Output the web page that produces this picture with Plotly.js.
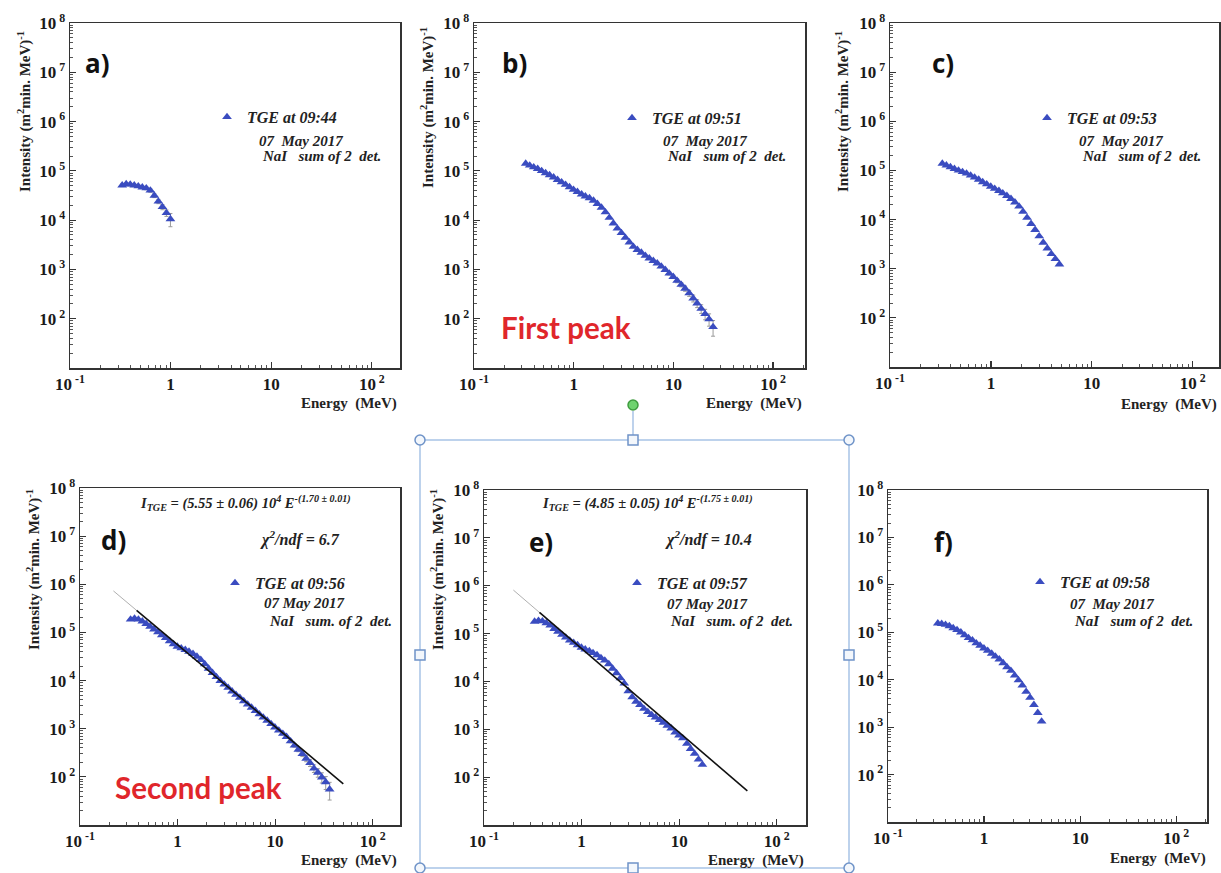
<!DOCTYPE html>
<html>
<head>
<meta charset="utf-8">
<script src="https://cdn.plot.ly/plotly-3.0.1.min.js"></script>
<style>
  html, body { margin: 0; padding: 0; background: #ffffff; }
  #chart { width: 1221px; height: 873px; }
</style>
</head>
<body>
<div id="chart"></div>
<script>
// Energy bin centres (MeV) shared by all six spectra
const ENERGY = [0.330, 0.362, 0.397, 0.435, 0.477, 0.523, 0.573, 0.629, 0.689, 0.756,
                0.829, 0.909, 0.996, 1.09, 1.20, 1.31, 1.44, 1.58, 1.73, 1.90,
                2.08, 2.28, 2.50, 2.74, 3.01, 3.30, 3.62, 3.97, 4.35, 4.77,
                5.23, 5.73, 6.29, 6.89, 7.56, 8.29, 9.09, 9.96, 10.9, 12.0,
                13.1, 14.4, 15.8, 17.3, 19.0, 20.8, 22.8, 25.0, 27.4, 30.1,
                33.0, 36.2];

// Differential intensity, (m^2 min MeV)^-1, one array per minute
const INTENSITY_0944 = [5.1e4, 5.4e4, 5.3e4, 5.1e4, 4.9e4, 4.65e4, 4.45e4, 4.0e4, 3.15e4, 2.4e4,
                        1.85e4, 1.4e4, 1.05e4];
const INTENSITY_0951 = [1.41e5, 1.29e5, 1.19e5, 1.10e5, 9.95e4, 9.0e4, 8.2e4, 7.4e4, 6.6e4, 5.9e4,
                        5.25e4, 4.7e4, 4.15e4, 3.75e4, 3.35e4, 3.05e4, 2.8e4, 2.5e4, 2.15e4, 1.8e4,
                        1.45e4, 1.12e4, 8.6e3, 6.8e3, 5.5e3, 4.4e3, 3.55e3, 2.9e3, 2.5e3, 2.2e3,
                        1.9e3, 1.68e3, 1.5e3, 1.33e3, 1.15e3, 980, 830, 710, 590, 490,
                        410, 330, 260, 205, 160, 125, 98, 68];
const INTENSITY_0953 = [1.38e5, 1.27e5, 1.17e5, 1.08e5, 1.0e5, 9.3e4, 8.7e4, 7.9e4, 7.2e4, 6.5e4,
                        5.8e4, 5.25e4, 4.7e4, 4.25e4, 3.85e4, 3.45e4, 3.05e4, 2.65e4, 2.25e4, 1.85e4,
                        1.45e4, 1.09e4, 8.2e3, 6.2e3, 4.6e3, 3.4e3, 2.6e3, 2.0e3, 1.58e3, 1.23e3];
const INTENSITY_0956 = [1.86e5, 1.95e5, 1.86e5, 1.70e5, 1.51e5, 1.32e5, 1.16e5, 1.01e5, 8.8e4, 7.7e4,
                        6.6e4, 5.75e4, 5.1e4, 4.7e4, 4.35e4, 4.0e4, 3.6e4, 3.15e4, 2.7e4, 2.2e4,
                        1.78e4, 1.45e4, 1.19e4, 9.8e3, 8.3e3, 7.1e3, 6.0e3, 5.1e3, 4.4e3, 3.75e3,
                        3.2e3, 2.75e3, 2.35e3, 2.0e3, 1.72e3, 1.48e3, 1.26e3, 1.07e3, 920, 790,
                        680, 550, 450, 370, 300, 240, 195, 150, 123, 98,
                        78, 55];
const INTENSITY_0957 = [1.78e5, 1.86e5, 1.82e5, 1.66e5, 1.48e5, 1.26e5, 1.10e5, 9.5e4, 8.3e4, 7.2e4,
                        6.45e4, 5.75e4, 5.1e4, 4.7e4, 4.3e4, 3.95e4, 3.55e4, 3.1e4, 2.75e4, 2.3e4,
                        1.86e4, 1.5e4, 1.17e4, 9.1e3, 6.3e3, 4.7e3, 3.8e3, 3.25e3, 2.7e3, 2.3e3,
                        2.0e3, 1.78e3, 1.57e3, 1.38e3, 1.2e3, 1.05e3, 860, 750, 650, 500,
                        390, 310, 235, 182];
const INTENSITY_0958 = [1.55e5, 1.51e5, 1.45e5, 1.35e5, 1.23e5, 1.12e5, 1.0e5, 8.7e4, 7.6e4, 6.8e4,
                        5.9e4, 5.25e4, 4.6e4, 4.1e4, 3.55e4, 3.1e4, 2.7e4, 2.25e4, 1.85e4, 1.55e4,
                        1.23e4, 9.8e3, 7.6e3, 5.6e3, 4.2e3, 2.95e3, 2.0e3, 1.32e3];

// Relative statistical errors (fraction of intensity)
const REL_ERR_0944 = [0.06, 0.06, 0.06, 0.06, 0.06, 0.06, 0.07, 0.08, 0.09, 0.10, 0.12, 0.15, 0.30];
const REL_ERR_0951 = [0.02, 0.02, 0.02, 0.02, 0.02, 0.02, 0.02, 0.02, 0.02, 0.02,
                      0.02, 0.02, 0.02, 0.02, 0.02, 0.02, 0.02, 0.02, 0.02, 0.02,
                      0.02, 0.02, 0.02, 0.02, 0.02, 0.02, 0.02, 0.02, 0.02, 0.02,
                      0.04, 0.04, 0.05, 0.05, 0.06, 0.06, 0.07, 0.08, 0.09, 0.10,
                      0.12, 0.14, 0.16, 0.18, 0.20, 0.24, 0.28, 0.35];
const REL_ERR_0956 = [0.02, 0.02, 0.02, 0.02, 0.02, 0.02, 0.02, 0.02, 0.02, 0.02,
                      0.02, 0.02, 0.02, 0.02, 0.02, 0.02, 0.02, 0.02, 0.02, 0.02,
                      0.02, 0.02, 0.02, 0.02, 0.02, 0.02, 0.02, 0.02, 0.02, 0.02,
                      0.02, 0.02, 0.02, 0.02, 0.02, 0.02, 0.02, 0.02, 0.04, 0.05,
                      0.06, 0.07, 0.08, 0.10, 0.12, 0.14, 0.16, 0.18, 0.20, 0.24,
                      0.30, 0.40];

const TIMES = ['09:44', '09:51', '09:53', '09:56', '09:57', '09:58'];
const LETTERS = ['a)', 'b)', 'c)', 'd)', 'e)', 'f)'];
const SPECTRA = [INTENSITY_0944, INTENSITY_0951, INTENSITY_0953, INTENSITY_0956, INTENSITY_0957, INTENSITY_0958];
const REL_ERRORS = [REL_ERR_0944, REL_ERR_0951, null, REL_ERR_0956, null, null];
const DATE_LINE = ['07\u00a0\u00a0May 2017', '07\u00a0\u00a0May 2017', '07\u00a0\u00a0May 2017',
                   '07 May 2017', '07 May 2017', '07\u00a0\u00a0May 2017'];
const DETECTOR_LINE = ['NaI\u00a0\u00a0\u00a0sum of 2\u00a0\u00a0det.', 'NaI\u00a0\u00a0\u00a0sum of 2\u00a0\u00a0det.',
                       'NaI\u00a0\u00a0\u00a0sum of 2\u00a0\u00a0det.', 'NaI\u00a0\u00a0\u00a0sum. of 2\u00a0\u00a0det.',
                       'NaI\u00a0\u00a0\u00a0sum. of 2\u00a0\u00a0det.', 'NaI\u00a0\u00a0\u00a0sum of 2\u00a0\u00a0det.'];
const PEAK_LABELS = ['First peak', 'Second peak'];

// Power-law fits I = A * 10^4 * E^-gamma for the 09:56 and 09:57 spectra
const FIT_PANELS = [3, 4];
const FIT_AMPLITUDE = [5.55, 4.85];      // units of 10^4
const FIT_AMPLITUDE_ERR = [0.06, 0.05];
const FIT_GAMMA = [1.70, 1.75];
const FIT_GAMMA_ERR = [0.01, 0.01];
const FIT_CHI2_NDF = ['6.7', '10.4'];
const FIT_E_START = [0.22, 0.20];
const FIT_E_MID = [0.38, 0.37];
const FIT_E_END = [50, 50];

// Axis tick labels
const XTICK_VALS = [0.1, 1, 10, 100];
const XTICK_TEXT = ['10<sup> -1</sup>', '1', '10', '10<sup> 2</sup>'];
const YTICK_VALS = [1e2, 1e3, 1e4, 1e5, 1e6, 1e7, 1e8];
const YTICK_TEXT = ['10<sup> 2</sup>', '10<sup> 3</sup>', '10<sup> 4</sup>', '10<sup> 5</sup>',
                    '10<sup> 6</sup>', '10<sup> 7</sup>', '10<sup> 8</sup>'];

// ---- page geometry (pixels) ----
const W = 1221, H = 873;
const px = x => x / W;
const py = y => 1 - y / H;
// frame of each panel: left, right, top, bottom
const BOX = [[70, 400, 23, 368], [474, 805, 23, 368], [890, 1219, 23, 367],
             [80, 400, 488, 825], [484, 806, 490, 825], [888, 1207, 490, 822]];
const X_MAX_LOG = [2.28, 2.32, 2.26, 2.28, 2.30, 2.32];

const BLUE = '#3a4cc0';
const INK = '#222222';
const SERIF = 'Liberation Serif, Times New Roman, serif';

function minorVals(d0, d1) {
  const v = [];
  for (let d = d0; d <= d1; d++) for (let m = 2; m <= 9; m++) v.push(m * Math.pow(10, d));
  return v;
}

const data = [];
const layout = {
  width: W, height: H,
  margin: {l: 0, r: 0, t: 0, b: 0},
  paper_bgcolor: '#ffffff', plot_bgcolor: '#ffffff',
  showlegend: true,
  annotations: [], shapes: []
};

const tickFont = {family: SERIF, size: 17, weight: 'bold', color: '#1a1a1a'};

for (let k = 0; k < 6; k++) {
  const sfx = k === 0 ? '' : String(k + 1);
  const [x0, x1, y0, y1] = BOX[k];
  layout['xaxis' + sfx] = {
    type: 'log', domain: [px(x0), px(x1)], range: [-1, X_MAX_LOG[k]], anchor: 'y' + sfx,
    showline: true, mirror: true, linecolor: '#333', linewidth: 1.5,
    ticks: 'inside', ticklen: 6, tickwidth: 1.2, tickcolor: '#333',
    tickmode: 'array', tickvals: XTICK_VALS, ticktext: XTICK_TEXT, tickfont: tickFont,
    minor: {tickmode: 'array', tickvals: minorVals(-1, 2), ticks: 'inside', ticklen: 3, tickcolor: '#555', tickwidth: 1, showgrid: false},
    showgrid: false, zeroline: false, fixedrange: true
  };
  layout['yaxis' + sfx] = {
    type: 'log', domain: [py(y1), py(y0)], range: [1, 8], anchor: 'x' + sfx,
    showline: true, mirror: true, linecolor: '#333', linewidth: 1.5,
    ticks: 'inside', ticklen: 6, tickwidth: 1.2, tickcolor: '#333',
    tickmode: 'array', tickvals: YTICK_VALS, ticktext: YTICK_TEXT, tickfont: tickFont,
    minor: {tickmode: 'array', tickvals: minorVals(1, 7), ticks: 'inside', ticklen: 3, tickcolor: '#555', tickwidth: 1, showgrid: false},
    showgrid: false, zeroline: false, fixedrange: true
  };

  const n = SPECTRA[k].length;
  const xs = ENERGY.slice(0, n);
  const trace = {
    type: 'scatter', mode: 'markers', x: xs, y: SPECTRA[k],
    xaxis: 'x' + sfx, yaxis: 'y' + sfx,
    name: 'TGE at ' + TIMES[k],
    legend: 'legend' + sfx,
    marker: {symbol: 'triangle-up', size: 8.5, color: BLUE, line: {width: 0}},
    hoverinfo: 'x+y'
  };
  if (REL_ERRORS[k]) {
    trace.error_y = {type: 'data', array: SPECTRA[k].map((v, i) => v * REL_ERRORS[k][i]),
                     color: '#9a9a9a', thickness: 1, width: 2};
  }
  data.push(trace);
}

// Fitted power laws: faint extrapolation below the fit range, solid line over it
FIT_PANELS.forEach((k, j) => {
  const sfx = String(k + 1);
  const f = e => FIT_AMPLITUDE[j] * 1e4 * Math.pow(e, -FIT_GAMMA[j]);
  data.push({type: 'scatter', mode: 'lines', x: [FIT_E_START[j], FIT_E_MID[j]],
             y: [f(FIT_E_START[j]), f(FIT_E_MID[j])], xaxis: 'x' + sfx, yaxis: 'y' + sfx,
             line: {color: '#b0b0b0', width: 1}, showlegend: false, hoverinfo: 'skip'});
  data.push({type: 'scatter', mode: 'lines', x: [FIT_E_MID[j], FIT_E_END[j]],
             y: [f(FIT_E_MID[j]), f(FIT_E_END[j])], xaxis: 'x' + sfx, yaxis: 'y' + sfx,
             line: {color: '#111111', width: 1.6}, showlegend: false, hoverinfo: 'skip'});
});

// Legends, one per panel
const LEGEND_AT = [[229, 117], [634, 118], [1049, 118], [237, 583], [639, 583], [1042, 582]];
const legendFont = {family: SERIF, size: 16, weight: 'bold', style: 'italic', color: INK};
const noteFont = {family: SERIF, size: 15, weight: 'bold', style: 'italic', color: INK};
for (let k = 0; k < 6; k++) {
  const key = k === 0 ? 'legend' : 'legend' + (k + 1);
  layout[key] = {
    x: px(LEGEND_AT[k][0] - 22), y: py(LEGEND_AT[k][1]), xanchor: 'left', yanchor: 'middle',
    bgcolor: 'rgba(0,0,0,0)', borderwidth: 0, font: legendFont, itemwidth: 30
  };
}

function ann(text, x, y, font, extra) {
  layout.annotations.push(Object.assign({
    text: text, x: px(x), y: py(y), xref: 'paper', yref: 'paper',
    showarrow: false, font: font, xanchor: 'center', yanchor: 'middle'
  }, extra || {}));
}

// Panel letters
const LETTER_AT = [[97, 63], [514, 63], [943, 63], [113, 540], [541, 542], [943, 542]];
LETTERS.forEach((t, k) => ann(t, LETTER_AT[k][0], LETTER_AT[k][1],
  {family: 'Open Sans, Lato, sans-serif', size: 26, weight: 'bold', color: '#111'}));

// Date and detector lines under each legend entry
const DATE_AT = [[257, 141], [661, 141], [1077, 141], [262, 603], [665, 604], [1068, 604]];
const DET_AT = [[260, 156], [665, 156], [1080, 156], [267, 621], [668, 621], [1072, 621]];
for (let k = 0; k < 6; k++) {
  ann(DATE_LINE[k], DATE_AT[k][0], DATE_AT[k][1], noteFont, {xanchor: 'left'});
  ann(DETECTOR_LINE[k], DET_AT[k][0], DET_AT[k][1], noteFont, {xanchor: 'left'});
}

// Fit formulas
const FORMULA_AT = [[245, 503], [648, 503]];
const CHI_AT = [[300, 538], [708, 538]];
FIT_PANELS.forEach((k, j) => {
  const txt = 'I<sub>TGE</sub> = (' + FIT_AMPLITUDE[j].toFixed(2) + ' \u00b1 ' + FIT_AMPLITUDE_ERR[j].toFixed(2) +
              ') 10<sup>4</sup> E<sup>-(' + FIT_GAMMA[j].toFixed(2) + ' \u00b1 ' + FIT_GAMMA_ERR[j].toFixed(2) + ')</sup>';
  ann(txt, FORMULA_AT[j][0], FORMULA_AT[j][1], {family: SERIF, size: 14.5, weight: 'bold', style: 'italic', color: INK});
  ann('\u03c7<sup>2</sup>/ndf = ' + FIT_CHI2_NDF[j], CHI_AT[j][0], CHI_AT[j][1],
      {family: SERIF, size: 16, weight: 'bold', style: 'italic', color: INK});
});

// Axis titles
const axisTitleFont = {family: SERIF, size: 15, weight: 'bold', color: INK};
const XTITLE_AT = [[399, 403], [804, 403], [1219, 404], [399, 860], [806, 860], [1208, 858]];
XTITLE_AT.forEach(p => ann('Energy\u00a0\u00a0(MeV)', p[0], p[1], axisTitleFont, {xanchor: 'right'}));
const YTITLE_AT = [[25, 112], [427, 108], [843, 112], [33, 570], [437, 570]];
YTITLE_AT.forEach(p => ann('Intensity (m<sup>2</sup>min. MeV)<sup>-1</sup>', p[0], p[1], axisTitleFont, {textangle: -90}));

// Peak labels
const peakFont = {family: 'Lato, Open Sans, sans-serif', size: 29.5, weight: 'bold', color: '#e0262b'};
ann(PEAK_LABELS[0], 566, 327, peakFont);
ann(PEAK_LABELS[1], 198, 787, peakFont);

// Selection frame around panel e
const FRAME = '#a8c3e6', HANDLE = '#6f93c8';
layout.shapes.push({type: 'rect', xref: 'paper', yref: 'paper', x0: px(420), x1: px(849), y0: py(868), y1: py(440),
                    line: {color: FRAME, width: 1.5}, fillcolor: 'rgba(0,0,0,0)'});
layout.shapes.push({type: 'line', xref: 'paper', yref: 'paper', x0: px(633), x1: px(633), y0: py(411), y1: py(435),
                    line: {color: FRAME, width: 1.5}});
[[420, 440], [849, 440], [420, 868], [849, 868]].forEach(c => layout.shapes.push({
  type: 'circle', xref: 'paper', yref: 'paper', x0: px(c[0] - 5), x1: px(c[0] + 5), y0: py(c[1] + 5), y1: py(c[1] - 5),
  line: {color: HANDLE, width: 1.5}, fillcolor: '#f3f7fc'}));
[[633, 440], [420, 655], [849, 655], [633, 868]].forEach(c => layout.shapes.push({
  type: 'rect', xref: 'paper', yref: 'paper', x0: px(c[0] - 5), x1: px(c[0] + 5), y0: py(c[1] + 5), y1: py(c[1] - 5),
  line: {color: HANDLE, width: 1.5}, fillcolor: '#f3f7fc'}));
layout.shapes.push({type: 'circle', xref: 'paper', yref: 'paper', x0: px(628), x1: px(638), y0: py(410), y1: py(400),
                    line: {color: '#3f9c3f', width: 1.5}, fillcolor: '#6fd36f'});

Plotly.newPlot('chart', data, layout, {displayModeBar: false, staticPlot: true});
</script>
</body>
</html>
